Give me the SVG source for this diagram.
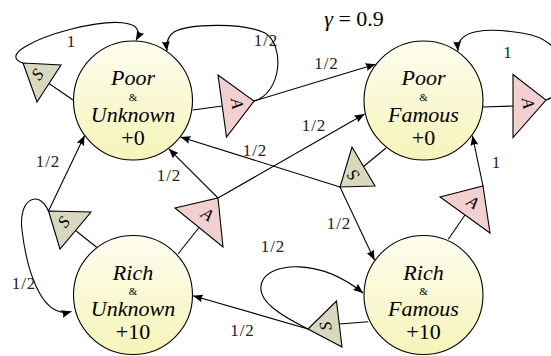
<svg xmlns="http://www.w3.org/2000/svg" width="551" height="356" viewBox="0 0 551 356" font-family="Liberation Serif, Times New Roman, serif">
<defs>
<linearGradient id="ball" x1="0" y1="0" x2="0" y2="1">
<stop offset="0" stop-color="#fdfdf0"/>
<stop offset="1" stop-color="#f6f4b8"/>
</linearGradient>
<marker id="arr" markerUnits="userSpaceOnUse" viewBox="0 0 10 8" markerWidth="10" markerHeight="8" refX="10" refY="4" orient="auto">
<path d="M0,0 L10,4 L0,8 Q2.5,4 0,0 Z" fill="#000"/>
</marker>
</defs>
<style>
.st{fill:url(#ball);stroke:#000;stroke-width:1.1}
.tS{fill:#d8d8bf;stroke:#000;stroke-width:1.1;stroke-linejoin:miter}
.tA{fill:#f3d0d0;stroke:#000;stroke-width:1.1;stroke-linejoin:miter}
.big{font-size:22px;text-anchor:middle;fill:#000}
.it{font-style:italic}
.amp{font-size:11px;text-anchor:middle;fill:#000}
.let{font-style:italic;font-size:17px;text-anchor:middle;fill:#000}
.lbl{font-size:17px;text-anchor:middle;fill:#222;letter-spacing:1px}
.e{fill:none;stroke:#000;stroke-width:1.1}
.a{fill:none;stroke:#000;stroke-width:1.1;marker-end:url(#arr)}
</style>

<text class="big" x="354" y="26"><tspan class="it">γ</tspan> = 0.9</text>

<g id="connectors">
<path class="e" d="M73,100 L49,83.5"/>
<path class="e" d="M192.7,110 L222.25,106"/>
<path class="e" d="M483,107 L513,106"/>
<path class="e" d="M386,148 L363.5,166.5"/>
<path class="e" d="M448.3,239.3 L465,215"/>
<path class="e" d="M178,254 L199,227.5"/>
<path class="e" d="M96.7,247.3 L75.5,230.5"/>
<path class="e" d="M368.3,321.7 L339.3,324"/>

<path class="a" d="M23,63 C-22,48 160,-5 136,40.5"/>
<path class="a" d="M254,101 C282,93 285,45 265,33 C242,22 188,24 174,32 C168,36 166,43 167,51"/>
<path class="a" d="M254,101 L375.5,64.2"/>
<path class="a" d="M546,100 C575,90 572,40 522,33 C490,28 456,28 458,51"/>
<path class="a" d="M340,187 L180.5,137"/>
<path class="a" d="M340,187 L374.5,260.2"/>
<path class="a" d="M483,186 L472.4,135.6"/>
<path class="a" d="M218,198 L168.8,148.8"/>
<path class="a" d="M218,198 L364.6,114.1"/>
<path class="a" d="M48.5,211 L84.6,135.6"/>
<path class="a" d="M48.5,211 C38,188 18,200 22,230 C26,265 40,320 71.5,311.5"/>
<path class="a" d="M308,329 L193,295.7"/>
<path class="a" d="M308,329 C280,315 255,300 262,282 C270,262 320,258 363,293"/>

<text class="lbl" x="71.5" y="46.5">1</text>
<text class="lbl" x="266" y="46">1/2</text>
<text class="lbl" x="326.5" y="69">1/2</text>
<text class="lbl" x="314" y="131">1/2</text>
<text class="lbl" x="508" y="58">1</text>
<text class="lbl" x="496.5" y="168">1</text>
<text class="lbl" x="255" y="156">1/2</text>
<text class="lbl" x="169" y="181">1/2</text>
<text class="lbl" x="48" y="167">1/2</text>
<text class="lbl" x="24" y="289">1/2</text>
<text class="lbl" x="339" y="229">1/2</text>
<text class="lbl" x="273" y="252">1/2</text>
<text class="lbl" x="242.5" y="336">1/2</text>
</g>

<g id="poor-unknown">
<circle class="st" cx="133" cy="100.5" r="59.5"/>
<text class="big it" x="133" y="85">Poor</text>
<text class="amp" x="133" y="100.5">&amp;</text>
<text class="big it" x="133" y="121.5">Unknown</text>
<text class="big" x="133" y="145">+0</text>
</g>
<g id="poor-famous">
<circle class="st" cx="423.5" cy="100.5" r="59.5"/>
<text class="big it" x="423.5" y="85">Poor</text>
<text class="amp" x="423.5" y="100.5">&amp;</text>
<text class="big it" x="423.5" y="121.5">Famous</text>
<text class="big" x="423.5" y="145">+0</text>
</g>
<g id="rich-unknown">
<circle class="st" cx="133" cy="295" r="59.5"/>
<text class="big it" x="133" y="279.5">Rich</text>
<text class="amp" x="133" y="295">&amp;</text>
<text class="big it" x="133" y="316">Unknown</text>
<text class="big" x="133" y="339">+10</text>
</g>
<g id="rich-famous">
<circle class="st" cx="423.5" cy="295" r="59.5"/>
<text class="big it" x="423.5" y="279.5">Rich</text>
<text class="amp" x="423.5" y="295">&amp;</text>
<text class="big it" x="423.5" y="316">Famous</text>
<text class="big" x="423.5" y="339">+10</text>
</g>

<g id="s-poor-unknown">
<polygon class="tS" points="23,63 61,65 37,102"/>
<text class="let" transform="translate(37.3,74.3) rotate(-52)" dy="0.35em">S</text>
</g>
<g id="a-poor-unknown">
<polygon class="tA" points="218,75 254,101 226.5,137"/>
<text class="let" transform="translate(237.5,103.5) rotate(81)" dy="0.35em">A</text>
</g>
<g id="a-poor-famous">
<polygon class="tA" points="513,74.5 546,100 513,137.5"/>
<text class="let" transform="translate(528.5,103) rotate(80)" dy="0.35em">A</text>
</g>
<g id="s-poor-famous">
<polygon class="tS" points="352,147 375,186 340,187"/>
<text class="let" transform="translate(353,175.5) rotate(229)" dy="0.35em">S</text>
</g>
<g id="a-rich-famous">
<polygon class="tA" points="440,197 483,186 490,233"/>
<text class="let" transform="translate(473,202) rotate(32)" dy="0.35em">A</text>
</g>
<g id="a-rich-unknown">
<polygon class="tA" points="175,208 218,198 223,247"/>
<text class="let" transform="translate(207.6,214.2) rotate(33)" dy="0.35em">A</text>
</g>
<g id="s-rich-unknown">
<polygon class="tS" points="48.5,211 91,212 60,249"/>
<text class="let" transform="translate(63.4,221.7) rotate(-54)" dy="0.35em">S</text>
</g>
<g id="s-rich-famous">
<polygon class="tS" points="308,329 336.5,301 342,347"/>
<text class="let" transform="translate(325.2,326.3) rotate(261)" dy="0.35em">S</text>
</g>
</svg>
